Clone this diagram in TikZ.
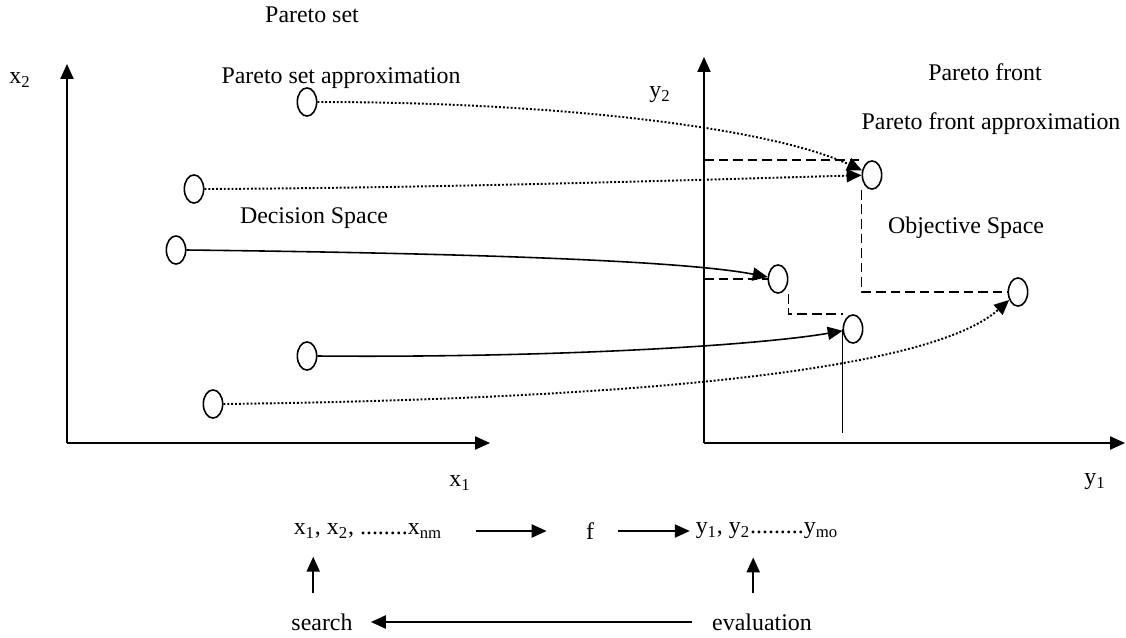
\documentclass[tikz,border=0pt]{standalone}
\usepackage{fontspec}
\setmainfont{Liberation Serif}
\usetikzlibrary{arrows.meta,shapes.geometric}

\begin{document}
\begin{tikzpicture}[x=0.02cm, y=-0.02cm, >={Triangle[length=8.5pt,width=7.5pt]},
    line width=0.9pt, font=\fontsize{13.6}{16}\selectfont,
    every node/.style={inner sep=0pt},
    pt/.style={draw, ellipse, minimum width=11pt, minimum height=16pt, line width=0.9pt},
    dotline/.style={line width=1.1pt, dash pattern=on 1.1pt off 1.1pt},
    dashline/.style={dash pattern=on 5.5pt off 2.8pt}]
    \useasboundingbox (0,0) rectangle (1126,637);
    \coordinate (xo) at (67,443);
    \coordinate (xtop) at (67,64);
    \coordinate (xend) at (490,443);
    \coordinate (yo) at (704,443);
    \coordinate (ytop) at (704,57);
    \coordinate (yend) at (1125,443);
    \draw[->] (xo) -- (xtop);
    \draw[->] (xo) -- (xend);
    \draw[->] (yo) -- (ytop);
    \draw[->] (yo) -- (yend);
    \node (pset) at (312,15) {Pareto set};
    \node (psetap) at (341,78) {Pareto set approximation};
    \node (xtwo) at (20,80) {x\textsubscript{2}};
    \node (ytwo) at (660,95) {y\textsubscript{2}};
    \node (pfront) at (985,72) {Pareto front};
    \node (pfrontap) at (991,124) {Pareto front approximation};
    \node (dspace) at (314,218) {Decision Space};
    \node (ospace) at (966,228) {Objective Space};
    \node (xone) at (460,483) {x\textsubscript{1}};
    \node (yone) at (1095,482) {y\textsubscript{1}};
    % points in both spaces
    \node[pt] (xa) at (307,102) {};
    \node[pt] (xb) at (194,189) {};
    \node[pt] (xc) at (176,250) {};
    \node[pt] (xd) at (307,356) {};
    \node[pt] (xe) at (213,404) {};
    \node[pt] (ya) at (872,175) {};
    \node[pt] (yb) at (778,279) {};
    \node[pt] (yc) at (853,329) {};
    \node[pt] (yd) at (1018,292) {};
    \draw[dotline,->] (xa.east) .. controls (560,102) and (770,128) .. (ya);
    \draw[dotline,->] (xb.east) .. controls (450,188) and (760,178) .. (ya);
    \draw[->] (xc.east) .. controls (450,253) and (680,260) .. (yb);
    \draw[->] (xd.east) .. controls (560,358) and (760,345) .. (yc);
    \draw[dotline,->] (xe.east) .. controls (550,400) and (920,380) .. (yd);
    \draw[dashline] (yo |- ya.north) -- (ya.west |- ya.north);
    \draw[dashline] (ya.west |- ya.south) -- (ya.west |- yd) -- (yd.west);
    \draw[dashline] (yo |- yb) -- (yb.west);
    \draw[dashline] (yb.east |- yb.south) -- (yb.east |- yc.north) -- (yc.west |- yc.north);
    \draw[shorten >=5.7pt] (yc.west) -- (yc.west |- yo);
    % search loop
    \node[anchor=west] (xs) at (293,531) {x\textsubscript{1}, x\textsubscript{2}, ........x\textsubscript{nm}};
    \node (f) at (590,531) {f};
    \node[anchor=west] (ys) at (695,531) {y\textsubscript{1}, y\textsubscript{2}.........y\textsubscript{mo}};
    \node (search) at (322,622) {search};
    \node (eval) at (762,622) {evaluation};
    \draw[->, shorten <=19pt, shorten >=22pt] (xs) -- (f);
    \draw[->, shorten <=13pt, shorten >=3pt] (f) -- (ys.west);
    \draw[->, shorten <=11pt, shorten >=10pt] ([xshift=-5pt]search.north) -- ([xshift=-5pt]search.north |- xs.south);
    \draw[->, shorten <=11pt, shorten >=10pt] ([xshift=-5pt]eval.north) -- ([xshift=-5pt]eval.north |- ys.south);
    \draw[->, shorten <=11pt, shorten >=10pt] (eval.west) -- (search.east);
\end{tikzpicture}
\end{document}
